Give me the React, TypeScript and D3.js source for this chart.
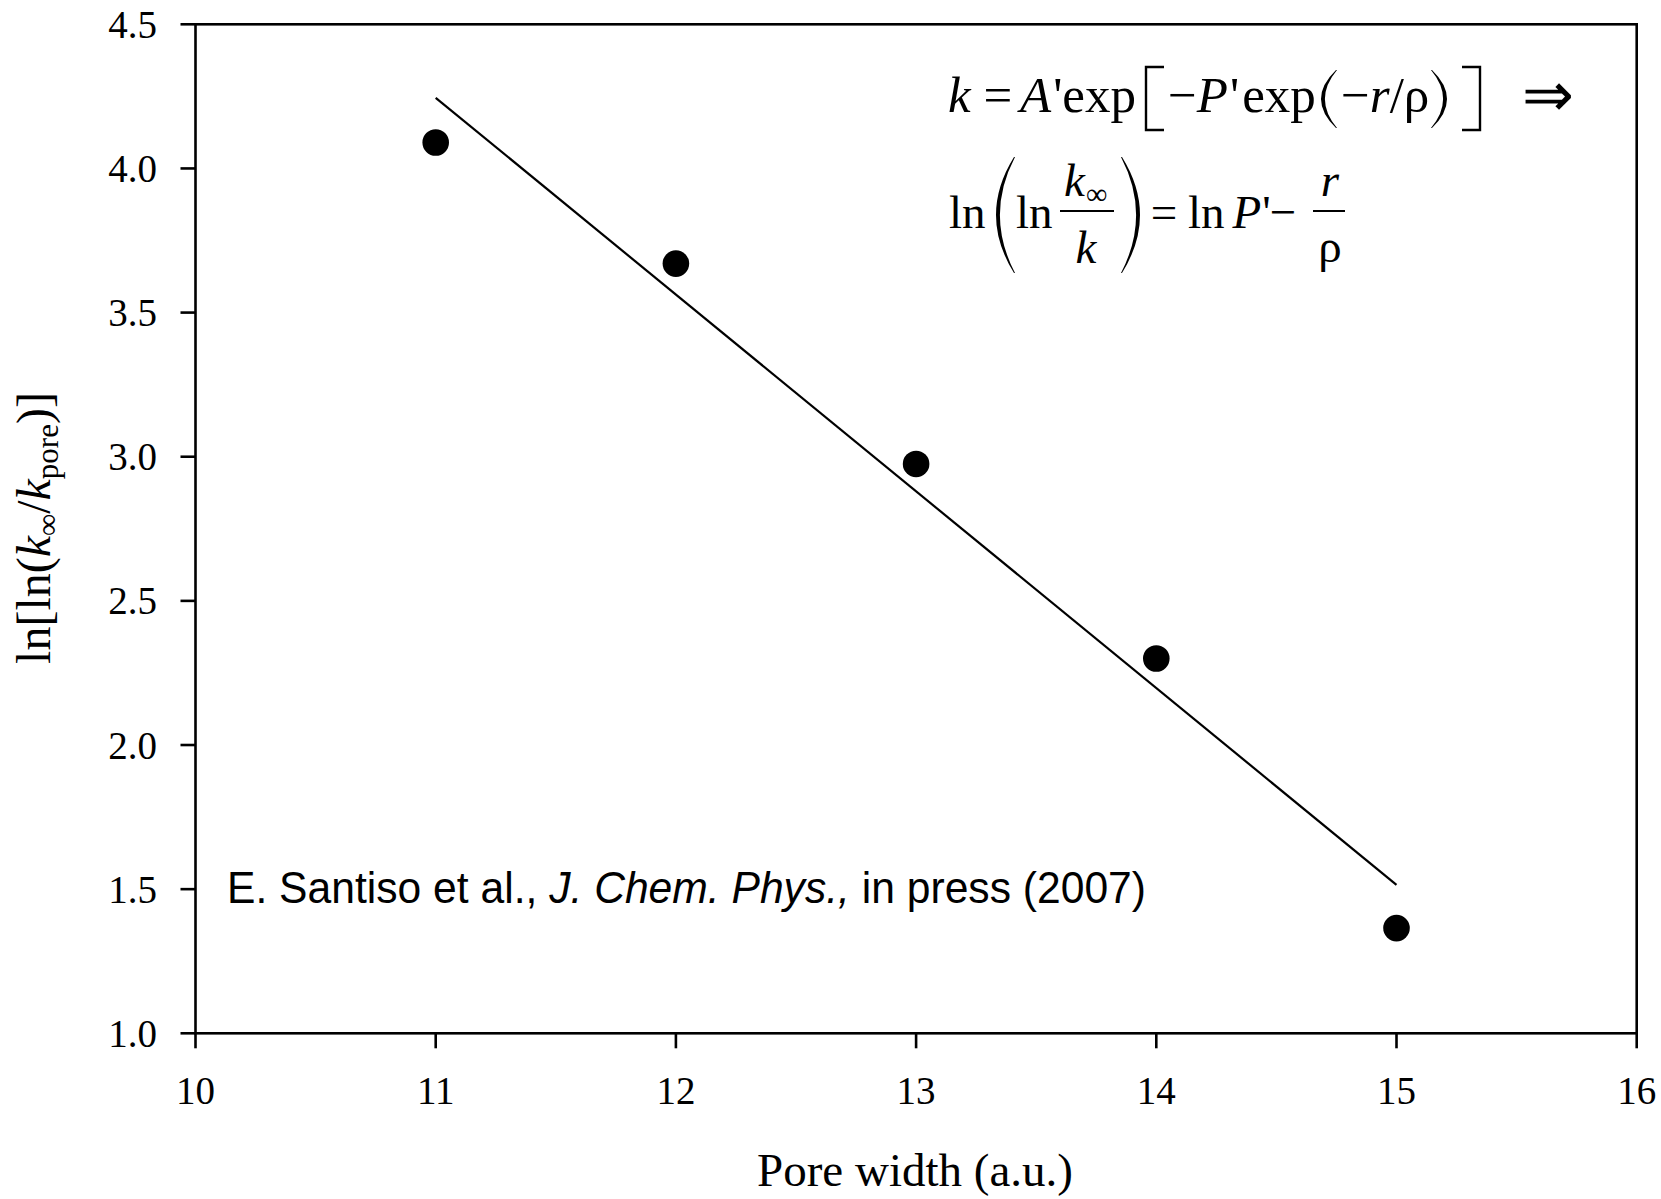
import React, { useEffect } from "react";
import * as d3 from "d3";

// ---- data ----
const poreWidth = [11, 12, 13, 14, 15];
const lnlnRatio = [4.09, 3.67, 2.975, 2.3, 1.365];
const fitX = [11, 15];
const fitY = [4.245, 1.515];
const xTicks = [10, 11, 12, 13, 14, 15, 16];
const yTicks = [1.0, 1.5, 2.0, 2.5, 3.0, 3.5, 4.0, 4.5];

const W = 1661;
const H = 1199;
const serif = "'Liberation Serif', 'Times New Roman', serif";
const sans = "'Liberation Sans', Arial, sans-serif";

function leftParen(xr: number, top: number, bot: number, w: number, t: number) {
  const mid = (top + bot) / 2;
  return `M${xr},${top} Q${xr - 2 * w},${mid} ${xr},${bot} L${xr + 1},${bot} Q${xr - 2 * w + 2 * t},${mid} ${xr + 1},${top} Z`;
}
function rightParen(xl: number, top: number, bot: number, w: number, t: number) {
  const mid = (top + bot) / 2;
  return `M${xl},${top} Q${xl + 2 * w},${mid} ${xl},${bot} L${xl - 1},${bot} Q${xl + 2 * w - 2 * t},${mid} ${xl - 1},${top} Z`;
}

export default function App() {
  useEffect(() => {
    document.body.style.margin = "0";
  }, []);

  const x = d3.scaleLinear().domain([10, 16]).range([195.5, 1636.7]);
  const y = d3.scaleLinear().domain([1, 4.5]).range([1033.3, 24.3]);
  const fmt = d3.format(".1f");
  const line = d3
    .line<[number, number]>()
    .x((d) => x(d[0]))
    .y((d) => y(d[1]));
  const fitPts: [number, number][] = fitX.map((v, i) => [v, fitY[i]]);

  const x0 = x(10), x1 = x(16), y0 = y(1), y1 = y(4.5);
  const tick = 15;
  const axisW = 2.6;
  const fs = 47;
  const fs1 = 51;

  return (
    <svg width={W} height={H} style={{ position: "absolute", left: 0, top: 0, background: "#fff" }}>
      <rect width={W} height={H} fill="#fff" />
      {/* frame */}
      <rect x={x0} y={y1} width={x1 - x0} height={y0 - y1} fill="none" stroke="#000" strokeWidth={axisW} />
      {/* y ticks */}
      {yTicks.map((t) => (
        <g key={"y" + t}>
          <line x1={x0 - tick} x2={x0} y1={y(t)} y2={y(t)} stroke="#000" strokeWidth={axisW} />
          <text x={157} y={y(t) + 13.5} textAnchor="end" fontFamily={serif} fontSize={39} fill="#000">
            {fmt(t)}
          </text>
        </g>
      ))}
      {/* x ticks */}
      {xTicks.map((t) => (
        <g key={"x" + t}>
          <line x1={x(t)} x2={x(t)} y1={y0} y2={y0 + tick} stroke="#000" strokeWidth={axisW} />
          <text x={x(t)} y={1104} textAnchor="middle" fontFamily={serif} fontSize={39} fill="#000">
            {t}
          </text>
        </g>
      ))}

      {/* fit line */}
      <path d={line(fitPts) || ""} fill="none" stroke="#000" strokeWidth={2.2} />
      {/* points */}
      {poreWidth.map((p, i) => (
        <circle key={"p" + i} cx={x(p)} cy={y(lnlnRatio[i])} r={13.3} fill="#000" />
      ))}

      {/* axis titles */}
      <text x={915} y={1186} textAnchor="middle" fontFamily={serif} fontSize={47} fill="#000">
        Pore width (a.u.)
      </text>
      <text
        transform="translate(50,528) rotate(-90)"
        textAnchor="middle"
        fontFamily={serif}
        fontSize={48}
        fill="#000"
      >
        ln[ln(
        <tspan fontStyle="italic">k</tspan>
        <tspan fontSize={31} dy={8}>∞</tspan>
        <tspan dy={-8}>/</tspan>
        <tspan fontStyle="italic">k</tspan>
        <tspan fontSize={31} dy={8}>pore</tspan>
        <tspan dy={-8}>)]</tspan>
      </text>

      {/* citation */}
      <text x={227} y={903} fontFamily={sans} fontSize={43.5} fill="#000" textLength={919} lengthAdjust="spacingAndGlyphs">
        E. Santiso et al., <tspan fontStyle="italic">J. Chem. Phys.,</tspan> in press (2007)
      </text>

      {/* equation line 1 */}
      <g fontFamily={serif} fontSize={fs1} fill="#000">
        <text x={948} y={112} fontStyle="italic">k</text>
        <text x={998} y={112} textAnchor="middle">=</text>
        <text x={1020} y={112}>
          <tspan fontStyle="italic">A</tspan>
          <tspan dx={2}>'exp</tspan>
        </text>
        <path d="M1164,67 H1146 V130 H1164" fill="none" stroke="#000" strokeWidth={2.4} />
        <text x={1168} y={112}>
          −<tspan fontStyle="italic">P</tspan>
          <tspan dx={2}>'</tspan>
          <tspan dx={3}>exp</tspan>
        </text>
        <path d={leftParen(1336, 70, 128, 15, 3.4)} fill="#000" />
        <text x={1341} y={112}>
          −<tspan fontStyle="italic">r</tspan>/ρ
        </text>
        <path d={rightParen(1432, 70, 128, 15, 3.4)} fill="#000" />
        <path d="M1462,67 H1480 V130 H1462" fill="none" stroke="#000" strokeWidth={2.4} />
        <text x={1522} y={116} fontSize={62}>⇒</text>
      </g>

      {/* equation line 2 */}
      <g fontFamily={serif} fontSize={fs} fill="#000">
        <text x={949} y={228}>ln</text>
        <path d={leftParen(1014, 157, 273, 18, 3.4)} fill="#000" />
        <text x={1016} y={228}>ln</text>
        <text x={1064} y={196} fontStyle="italic">k</text>
        <text x={1086} y={204} fontSize={30}>∞</text>
        <line x1={1060} x2={1114} y1={211} y2={211} stroke="#000" strokeWidth={2} />
        <text x={1086} y={263} fontStyle="italic" textAnchor="middle">k</text>
        <path d={rightParen(1122, 157, 273, 18, 3.4)} fill="#000" />
        <text x={1164} y={228} textAnchor="middle">=</text>
        <text x={1188} y={228}>
          ln<tspan dx={8} fontStyle="italic">P</tspan>
          <tspan dx={1}>'</tspan>
        </text>
        <text x={1283} y={228} textAnchor="middle">−</text>
        <text x={1330} y={196} fontStyle="italic" textAnchor="middle">r</text>
        <line x1={1313} x2={1345} y1={211} y2={211} stroke="#000" strokeWidth={2} />
        <text x={1330} y={262} textAnchor="middle">ρ</text>
      </g>
    </svg>
  );
}
